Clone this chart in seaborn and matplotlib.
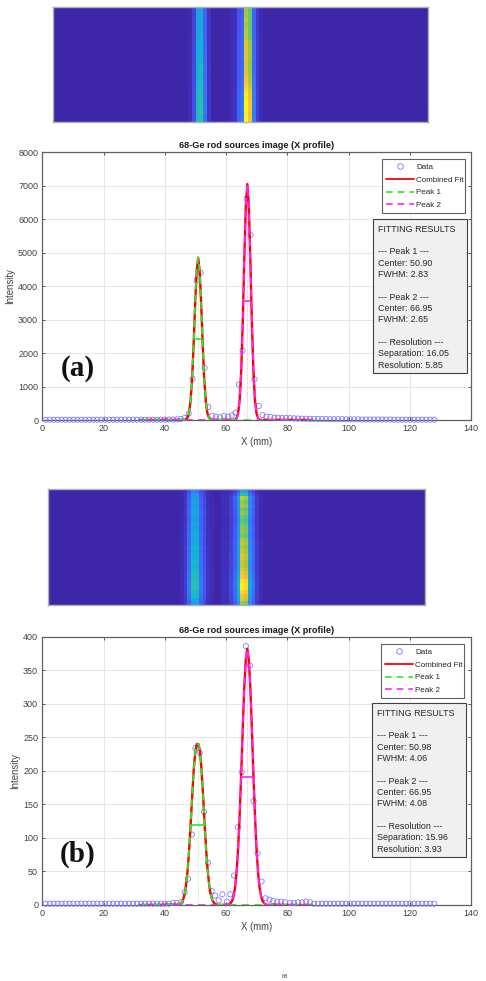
import numpy as np
import matplotlib
matplotlib.use("Agg")
import matplotlib.pyplot as plt
import seaborn as sns
from matplotlib.colors import LinearSegmentedColormap
from matplotlib.lines import Line2D
from matplotlib.patches import Rectangle

W, H = 486, 981

# --- values ---
x_left = np.linspace(1.1, 46.5, 36)
x_right = np.linspace(80.9, 128.0, 37)

x_mid_a = [47.8, 49.06, 50.4, 51.7, 53.0, 54.2, 55.5, 56.7, 58.0, 59.3, 60.7, 61.9, 63.1,
           64.2, 65.4, 66.7, 68.0, 69.3, 70.7, 71.9, 73.2, 74.5, 75.8, 77.0, 78.3, 79.6]
y_mid_a = [190, 1230, 4170, 4400, 1560, 390, 130, 100, 80, 120, 100, 140, 220,
           1060, 2080, 6620, 5530, 1220, 420, 150, 100, 90, 70, 70, 60, 60]
y_left_a = [10, 10, 10, 10, 10, 10, 10, 10, 10, 10, 10, 10, 10, 10, 10, 10, 10, 10,
            10, 10, 10, 10, 10, 10, 10, 10, 10, 10, 10, 10, 10, 15, 15, 20, 30, 60]
y_right_a = [55, 50, 45, 40, 40, 35, 35, 30, 30, 30, 25, 25, 25, 25, 20, 20, 20, 20, 15,
             15, 15, 15, 15, 15, 15, 15, 10, 10, 10, 10, 10, 10, 10, 10, 10, 10, 10]

x_mid_b = [47.6, 48.9, 50.0, 51.4, 52.8, 54.1, 55.3, 56.4, 57.6, 58.8, 60.3, 61.4, 62.6,
           63.9, 65.1, 66.5, 67.8, 69.0, 70.3, 71.6, 72.9, 74.2, 75.4, 76.7, 78.0, 79.3]
y_mid_b = [39, 105, 234, 227, 139, 63, 21, 14, 7, 16, 5, 16, 44,
           116, 198, 386, 357, 155, 77, 35, 10, 8, 6, 5, 5, 4]
y_left_b = [2, 2, 2, 2, 2, 2, 2, 2, 2, 2, 2, 2, 2, 2, 2, 2, 2, 2,
            2, 2, 2, 2, 2, 2, 2, 2, 2, 2, 2, 2, 2, 2, 3, 3, 4, 19]
y_right_b = [3, 3, 4, 4, 5, 4, 2, 2, 2, 2, 2, 2, 2, 2, 2, 2, 2, 2, 2,
             2, 2, 2, 2, 2, 2, 2, 2, 2, 2, 2, 2, 2, 2, 2, 2, 2, 2]

fit_x_a = [32.0, 46.4, 46.9, 47.4, 47.9, 48.4, 48.9, 49.4, 49.9, 50.4, 50.9, 51.4, 51.9, 52.4,
           52.9, 53.4, 53.9, 54.4, 54.9, 55.4, 62.45, 62.95, 63.45, 63.95, 64.45, 64.95,
           65.45, 65.95, 66.45, 66.95, 67.45, 67.95, 68.45, 68.95, 69.45, 69.95, 70.45,
           70.95, 71.45, 88.0]
peak1_a = [0, 4, 19, 69, 213, 553, 1208, 2221, 3429, 4447, 4850, 4447, 3429, 2221,
           1208, 553, 213, 69, 19, 4, 0, 0, 0, 0, 0, 0,
           0, 0, 0, 0, 0, 0, 0, 0, 0, 0, 0,
           0, 0, 0]
peak2_a = [0, 0, 0, 0, 0, 0, 0, 0, 0, 0, 0, 0, 0, 0,
           0, 0, 0, 0, 0, 0, 2, 13, 56, 201, 596, 1452,
           2898, 4752, 6387, 7050, 6387, 4752, 2898, 1452, 596, 201, 56,
           13, 2, 0]

fit_x_b = [32.0, 44.48, 44.98, 45.48, 45.98, 46.48, 46.98, 47.48, 47.98, 48.48, 48.98, 49.48,
           49.98, 50.48, 50.98, 51.48, 51.98, 52.48, 52.98, 53.48, 53.98, 54.48, 54.98, 55.48,
           55.98, 56.48, 56.98, 57.48, 60.45, 60.95, 61.45, 61.95, 62.45, 62.95, 63.45, 63.95,
           64.45, 64.95, 65.45, 65.95, 66.45, 66.95, 67.45, 67.95, 68.45, 68.95, 69.45, 69.95,
           70.45, 70.95, 71.45, 71.95, 72.45, 72.95, 73.45, 88.0]
peak1_b = [0, 0.6, 1.5, 3.6, 8, 16, 31, 53, 84, 123, 165, 203,
           230, 240, 240, 230, 203, 165, 123, 84, 53, 31, 16, 8,
           3.6, 1.5, 0.6, 0.2] + [0] * 28
peak2_b = [0] * 28 + [0.3, 0.9, 2.4, 5.8, 12.8, 26, 49, 84,
           134, 195, 262, 323, 366, 382, 366, 323, 262, 195, 134, 84,
           49, 26, 12.8, 5.8, 2.4, 0.9, 0.3, 0]

fwhm_a = [(50.90, 2.83, 2425), (66.95, 2.65, 3550)]
fwhm_b = [(50.98, 4.06, 120), (66.95, 4.08, 191)]
peak_tops_a = [(50.90, 4850), (66.95, 7050)]
peak_tops_b = [(50.98, 240), (66.95, 382)]

results_a = ["FITTING RESULTS", "", "--- Peak 1 ---", "Center: 50.90", "FWHM: 2.83", "",
             "--- Peak 2 ---", "Center: 66.95", "FWHM: 2.65", "",
             "--- Resolution ---", "Separation: 16.05", "Resolution: 5.85"]
results_b = ["FITTING RESULTS", "", "--- Peak 1 ---", "Center: 50.98", "FWHM: 4.06", "",
             "--- Peak 2 ---", "Center: 66.95", "FWHM: 4.08", "",
             "--- Resolution ---", "Separation: 15.96", "Resolution: 3.93"]

# heat map columns (index -> level) and per-row gain of each rod
bar1_cols_a = {36: .02, 37: .10, 38: .40, 39: .43, 40: .20, 41: .05}
bar2_cols_a = {47: .02, 48: .04, 49: .17, 50: .22, 51: .84, 52: .72, 53: .22, 54: .07, 55: .02}
bar1_gain_a = [.90, .90, .92, .95, .95, .95, .93, .95, .98, 1.0, 1.0, 1.0, 1.02, 1.05, 1.05, 1.08,
               1.10, 1.10, 1.08, 1.12, 1.12, 1.15, 1.15, 1.18, 1.2, 1.2, 1.2, 1.22, 1.22, 1.15, 1.2]
bar2_gain_a = [.85, .85, .85, .88, .85, .85, .88, .88, .90, .95, .95, .95, .97, .97, .95, .93,
               .95, .95, .97, 1.0, 1.0, 1.05, 1.10, 1.15, 1.15, 1.18, 1.18, 1.18, 1.15, 1.15, 1.18]
bar1_cols_b = {35: .02, 36: .06, 37: .20, 38: .40, 39: .40, 40: .20, 41: .12, 42: .04, 43: .02}
bar2_cols_b = {46: .03, 47: .03, 48: .08, 49: .17, 50: .35, 51: .72, 52: .68, 53: .30, 54: .18, 55: .06, 56: .02}
bar1_gain_b = [.65, .80, .85, .95, .90, .95, 1.0, .95, .90, 1.0, .95, 1.0, 1.05, 1.0, 1.0, 1.1,
               1.05, 1.1, 1.1, 1.15, 1.1, 1.15, 1.2, 1.2, 1.25, 1.25, 1.3, 1.2, 1.15, 1.0, .95]
bar2_gain_b = [.55, .75, 1.05, .95, 1.0, .9, .95, .9, .85, .9, .95, .95, .9, 1.0, 1.05, 1.0,
               1.05, 1.1, 1.1, 1.05, 1.05, 1.1, 1.15, 1.2, 1.3, 1.35, 1.35, 1.25, 1.15, 1.1, .95]

parula_stops = [(0.2422, 0.1504, 0.6603), (0.2810, 0.3228, 0.9579), (0.1786, 0.5289, 0.9682),
                (0.0689, 0.6948, 0.8394), (0.2161, 0.7843, 0.5923), (0.6720, 0.7793, 0.2227),
                (0.9970, 0.7659, 0.2199), (0.9769, 0.9839, 0.0805)]
parula = LinearSegmentedColormap.from_list("parula_like", parula_stops)

BLUE = (0.45, 0.45, 1.0)
GREY = "#404040"

sns.set_theme(style="white")
plt.rcParams["font.family"] = ["Liberation Sans", "DejaVu Sans"]


def axes_px(fig, left, top, right, bottom):
    return fig.add_axes([left / W, 1 - bottom / H, (right - left) / W, (bottom - top) / H])


def make_image(cols1, gain1, cols2, gain2):
    img = np.zeros((len(gain1), 100))
    for c, v in cols1.items():
        img[:, c] = v * np.array(gain1)
    for c, v in cols2.items():
        img[:, c] = v * np.array(gain2)
    return img


def draw_image(fig, rect, img, xt, yt):
    ax = axes_px(fig, *rect)
    sns.heatmap(img, cmap=parula, vmin=0, vmax=1, cbar=False, ax=ax,
                xticklabels=False, yticklabels=False)
    ax.set_xticks(xt)
    ax.set_yticks(yt)
    ax.set_xticklabels([])
    ax.set_yticklabels([])
    ax.tick_params(direction="in", length=2, width=0.6, color="#222244",
                   top=True, right=True, bottom=True, left=True)
    for s in ax.spines.values():
        s.set_visible(True)
        s.set_color("#b0b0b0")
        s.set_linewidth(1.0)
    return ax


def draw_profile(fig, rect, xs, ys, fit_x, p1, p2, fwhm, tops, ymax, ystep, legend_px):
    ax = axes_px(fig, *rect)
    sns.scatterplot(x=xs, y=ys, ax=ax, marker="o", s=14, facecolors="none",
                    edgecolor=BLUE, linewidth=0.55, zorder=3, clip_on=False)
    p1 = np.array(p1, dtype=float)
    p2 = np.array(p2, dtype=float)
    sns.lineplot(x=fit_x, y=p1 + p2, ax=ax, color="#ff0000", linewidth=1.7,
                 sort=False, estimator=None, errorbar=None, zorder=4)
    sns.lineplot(x=fit_x, y=p1, ax=ax, color="#22ee22", linewidth=1.3, linestyle=(0, (4, 3)),
                 sort=False, estimator=None, errorbar=None, zorder=5)
    sns.lineplot(x=fit_x, y=p2, ax=ax, color="#ff22ff", linewidth=1.3, linestyle=(3, (4, 3)),
                 sort=False, estimator=None, errorbar=None, zorder=5)
    for (c, w, h), col in zip(fwhm, ["#22ee22", "#ff22ff"]):
        ax.plot([c - w / 2, c + w / 2], [h, h], color=col, linewidth=1.2, zorder=6)
    for (c, top), col in zip(tops, ["#66ff66", "#ff66ff"]):
        ax.plot([c, c], [0, top], color=col, linewidth=0.5, linestyle=":", zorder=2)
    ax.set_xlim(0, 140)
    ax.set_ylim(0, ymax)
    ax.set_xticks(np.arange(0, 141, 20))
    ax.set_yticks(np.arange(0, ymax + 1, ystep))
    ax.grid(True, color="#e6e6e6", linewidth=0.7)
    ax.set_axisbelow(True)
    ax.tick_params(direction="in", length=2.5, width=0.6, color=GREY, labelcolor=GREY,
                   labelsize=6.5, pad=3, top=True, right=True, bottom=True, left=True)
    for s in ax.spines.values():
        s.set_visible(True)
        s.set_color("#606060")
        s.set_linewidth(0.9)
    ax.set_xlabel("X (mm)", fontsize=6.9, color=GREY, labelpad=2.5)
    ax.set_ylabel("Intensity", fontsize=6.9, color=GREY, labelpad=2)
    ax.set_title("68-Ge rod sources image (X profile)", fontsize=6.6, fontweight="bold",
                 color="#1a1a1a", pad=3)
    handles = [
        Line2D([], [], marker="o", linestyle="none", markerfacecolor="none",
               markeredgecolor=BLUE, markersize=4, markeredgewidth=0.6, label="Data"),
        Line2D([], [], color="#ff0000", linewidth=1.3, label="Combined Fit"),
        Line2D([], [], color="#22ee22", linewidth=1.2, linestyle=(0, (4, 3)), label="Peak 1"),
        Line2D([], [], color="#ff22ff", linewidth=1.2, linestyle=(0, (4, 3)), label="Peak 2"),
    ]
    l, t, r, b = legend_px
    leg = ax.legend(handles=handles, loc="upper left",
                    bbox_to_anchor=(l / W, 1 - b / H, (r - l) / W, (b - t) / H),
                    bbox_transform=fig.transFigure, fontsize=5.8, frameon=True, fancybox=False,
                    edgecolor="#606060", framealpha=1, borderpad=0.55, labelspacing=0.62,
                    handlelength=3.4, handletextpad=0.3, borderaxespad=0, mode="expand")
    leg.get_frame().set_linewidth(0.8)
    for txt in leg.get_texts():
        txt.set_color("#262626")
    leg.set_zorder(10)
    return ax


fig = plt.figure(figsize=(W / 100, H / 100), dpi=100, facecolor="white")

img_a = make_image(bar1_cols_a, bar1_gain_a, bar2_cols_a, bar2_gain_a)
img_b = make_image(bar1_cols_b, bar1_gain_b, bar2_cols_b, bar2_gain_b)
image_ticks_x = [10, 20, 29.6, 39.3, 49.1, 58.9, 68.7, 78.6, 88.4, 98.2]
image_ticks_y = [10, 20, 30]
draw_image(fig, (53, 6.5, 428, 122), img_a, image_ticks_x, image_ticks_y)
draw_image(fig, (48, 489, 425, 605), img_b, image_ticks_x, image_ticks_y)

xs_a = np.concatenate([x_left, x_mid_a, x_right])
ys_a = np.concatenate([y_left_a, y_mid_a, y_right_a])
xs_b = np.concatenate([x_left, x_mid_b, x_right])
ys_b = np.concatenate([y_left_b, y_mid_b, y_right_b])

draw_profile(fig, (42.3, 152.3, 471, 420), xs_a, ys_a, fit_x_a, peak1_a, peak2_a,
             fwhm_a, peak_tops_a, 8000, 1000, (382, 159, 465, 206))
draw_profile(fig, (42.3, 636.7, 471, 905), xs_b, ys_b, fit_x_b, peak1_b, peak2_b,
             fwhm_b, peak_tops_b, 400, 50, (381, 644, 464, 690))

# overlay in picture pixels for the result boxes and panel letters
over = fig.add_axes([0, 0, 1, 1], zorder=20)
over.set_xlim(0, W)
over.set_ylim(H, 0)
over.axis("off")
over.patch.set_alpha(0)


def results_box(left, top, right, bottom, lines):
    over.add_patch(Rectangle((left, top), right - left, bottom - top, facecolor="#f0f0f0",
                             edgecolor="#404040", linewidth=0.8))
    for i, line in enumerate(lines):
        over.text(left + 5, top + 10 + i * 11.35, line, fontsize=6.4, color="#262626",
                  va="center", ha="left")


results_box(373, 219, 467, 373, results_a)
results_box(372.3, 703, 465.7, 857, results_b)

over.text(61, 368, "(a)", family=["Liberation Serif"], fontweight="bold", fontsize=21,
          color="#111111", va="center", ha="left")
over.text(60, 854, "(b)", family=["Liberation Serif"], fontweight="bold", fontsize=21,
          color="#111111", va="center", ha="left")
over.text(285, 976, "68", family=["Liberation Serif"], fontsize=4.5, color="#222222",
          va="center", ha="center")

fig.savefig("out.png", dpi=100)
